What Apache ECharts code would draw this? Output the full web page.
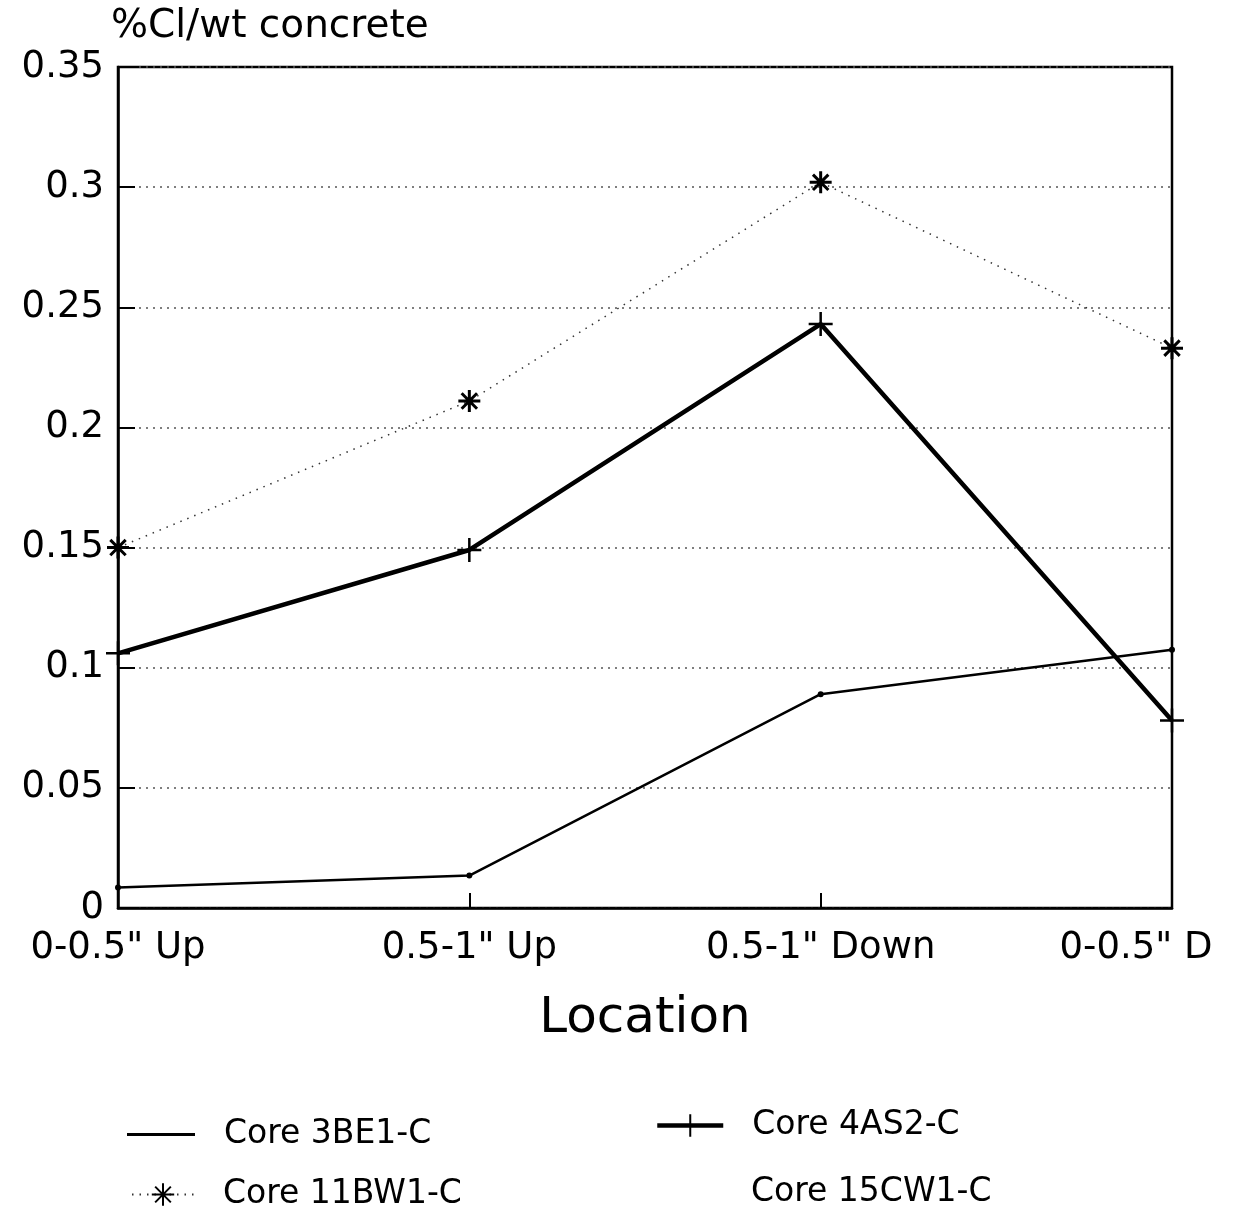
<!DOCTYPE html>
<html>
<head>
<meta charset="utf-8">
<script src="https://cdn.jsdelivr.net/npm/echarts@6/dist/echarts.min.js"></script>
<style>
html,body{margin:0;padding:0;background:#fff;}
#chart{width:1239px;height:1212px;}
</style>
</head>
<body>
<div id="chart"></div>
<script>
var categories = ['0-0.5" Up', '0.5-1" Up', '0.5-1" Down', '0-0.5" D'];
var core3BE1 = [0.0085, 0.0135, 0.089, 0.1075];
var core4AS2 = [0.106, 0.149, 0.243, 0.078];
var core11BW1 = [0.15, 0.211, 0.302, 0.233];
var core15CW1 = [null, null, null, null];
var yTicks = [0, 0.05, 0.1, 0.15, 0.2, 0.25, 0.3, 0.35];

var FONT = 'DejaVu Sans';
var plusPath = 'path://M0,-10 L0,10 M-10,0 L10,0';
var starPath = 'path://M0,-10 L0,10 M-10,0 L10,0 M-7,-7 L7,7 M-7,7 L7,-7';

var chart = echarts.init(document.getElementById('chart'), null, {renderer: 'canvas'});

function legendBox(item, left, top, extra) {
  var l = {
    data: [item],
    left: left,
    top: top,
    orient: 'horizontal',
    itemWidth: 66,
    itemHeight: 22,
    selectedMode: false,
    textStyle: {fontFamily: FONT, fontSize: 33, color: '#000', padding: [0, 0, 0, 24]}
  };
  if (extra) Object.assign(l, extra);
  return l;
}

var option = {
  backgroundColor: '#fff',
  animation: false,
  title: {
    text: '%Cl/wt concrete',
    left: 106,
    top: 2,
    textStyle: {fontFamily: FONT, fontSize: 39, fontWeight: 'normal', color: '#000'}
  },
  legend: [
    legendBox({name: 'Core 3BE1-C', icon: 'rect', itemStyle: {color: '#000'}}, 122, 1113, {itemHeight: 3, itemWidth: 68}),
    legendBox({name: 'Core 4AS2-C', lineStyle: {width: 4.5, color: '#000'}}, 650, 1104, {itemHeight: 28}),
    legendBox({name: 'Core 11BW1-C'}, 126, 1173, {itemWidth: 62, itemHeight: 28}),
    legendBox({name: 'Core 15CW1-C', itemStyle: {opacity: 0}, lineStyle: {opacity: 0}}, 650, 1171)
  ],
  grid: {
    left: 118, right: 67, top: 67, bottom: 304,
    show: true, borderColor: '#000', borderWidth: 2.5, backgroundColor: 'transparent'
  },
  xAxis: {
    type: 'category',
    data: categories,
    boundaryGap: false,
    name: 'Location',
    nameLocation: 'middle',
    nameGap: 86,
    nameTextStyle: {fontFamily: FONT, fontSize: 50, color: '#000'},
    axisLine: {lineStyle: {color: '#000', width: 2.5}},
    axisTick: {inside: true, length: 15, alignWithLabel: true, lineStyle: {color: '#000', width: 2}},
    axisLabel: {
      interval: 0,
      margin: 22,
      fontFamily: FONT, fontSize: 37, color: '#000',
      formatter: function (v, i) {
        return i === categories.length - 1 ? '{last|' + v + '}' : v;
      },
      rich: {last: {fontFamily: FONT, fontSize: 37, color: '#000', padding: [0, 72, 0, 0]}}
    },
    splitLine: {show: false}
  },
  yAxis: {
    type: 'value',
    min: 0, max: 0.35, interval: 0.05,
    axisLine: {show: true, lineStyle: {color: '#000', width: 2.5}},
    axisTick: {show: true, inside: true, length: 17, lineStyle: {color: '#000', width: 2}},
    axisLabel: {
      margin: 14,
      fontFamily: FONT, fontSize: 37, color: '#000',
      formatter: function (v) {
        var idx = yTicks.findIndex(function (t) { return Math.abs(t - v) < 1e-9; });
        return idx >= 0 ? String(yTicks[idx]) : '';
      }
    },
    splitLine: {show: true, lineStyle: {color: '#555', width: 1.5, type: [2, 5]}}
  },
  series: [
    {
      name: 'Core 3BE1-C', type: 'line', data: core3BE1,
      symbol: 'circle', symbolSize: 6, showSymbol: true,
      lineStyle: {color: '#000', width: 2.5},
      itemStyle: {color: '#000'}
    },
    {
      name: 'Core 4AS2-C', type: 'line', data: core4AS2,
      symbol: plusPath, symbolSize: 24,
      lineStyle: {color: '#000', width: 4.5},
      itemStyle: {color: '#000', borderColor: '#000', borderWidth: 2.5}
    },
    {
      name: 'Core 11BW1-C', type: 'line', data: core11BW1,
      symbol: starPath, symbolSize: 22,
      lineStyle: {color: '#333', width: 1.5, type: [1.5, 6]},
      itemStyle: {color: '#000', borderColor: '#000', borderWidth: 3}
    },
    {
      name: 'Core 15CW1-C', type: 'line', data: core15CW1,
      symbol: 'none',
      lineStyle: {color: '#000', width: 1.5}
    }
  ]
};
chart.setOption(option);
</script>
</body>
</html>
